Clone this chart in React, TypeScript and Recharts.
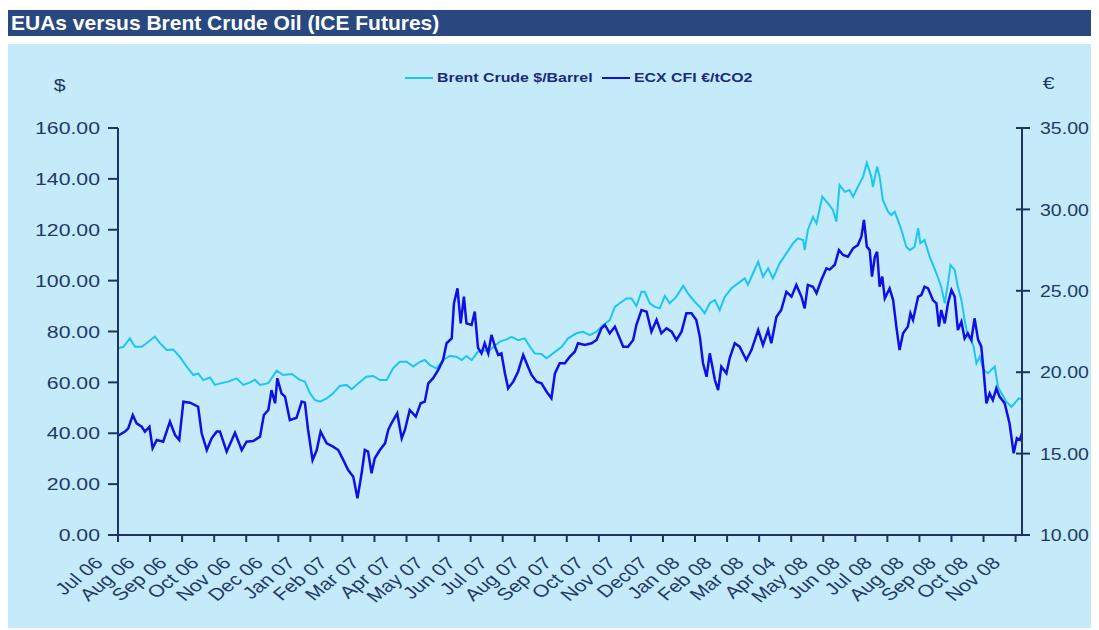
import React from 'react';
import { LineChart, Line, XAxis, YAxis } from 'recharts';

const months = [
  'Jul 06', 'Aug 06', 'Sep 06', 'Oct 06', 'Nov 06', 'Dec 06',
  'Jan 07', 'Feb 07', 'Mar 07', 'Apr 07', 'May 07', 'Jun 07',
  'Jul 07', 'Aug 07', 'Sep 07', 'Oct 07', 'Nov 07', 'Dec07',
  'Jan 08', 'Feb 08', 'Mar 08', 'Apr 04', 'May 08', 'Jun 08',
  'Jul 08', 'Aug 08', 'Sep 08', 'Oct 08', 'Nov 08',
];
const monthTicks = months.map((_, i) => i);
const dollarTicks = [0, 20, 40, 60, 80, 100, 120, 140, 160];
const euroTicks = [10, 15, 20, 25, 30, 35];

// time in months since start of Jul 06
const brentT = [
  0, 0.17, 0.37, 0.53, 0.74, 0.89, 1.15, 1.31, 1.52, 1.72,
  1.93, 2.14, 2.35, 2.5, 2.66, 2.87, 3.02, 3.23, 3.44, 3.7,
  3.91, 4.12, 4.27, 4.43, 4.69, 4.95, 5.15, 5.42, 5.67, 5.83,
  5.99, 6.14, 6.3, 6.51, 6.71, 6.92, 7.13, 7.29, 7.49, 7.75,
  7.96, 8.17, 8.38, 8.58, 8.79, 9.0, 9.21, 9.42, 9.57, 9.73,
  9.94, 10.14, 10.35, 10.56, 10.72, 10.87, 11.03, 11.23, 11.6, 11.91,
  12.12, 12.28, 12.48, 12.69, 12.85, 13.0, 13.21, 13.37, 13.57, 13.84,
  14.04, 14.3, 14.51, 14.72, 14.93, 15.13, 15.34, 15.5, 15.65, 15.86,
  16.02, 16.17, 16.33, 16.43, 16.59, 16.74, 16.9, 17.06, 17.21, 17.42,
  17.63, 17.78, 17.99, 18.15, 18.3, 18.46, 18.62, 18.77, 18.93, 19.14,
  19.34, 19.55, 19.65, 19.81, 19.97, 20.12, 20.28, 20.43, 20.64, 20.85,
  21.06, 21.21, 21.37, 21.42, 21.52, 21.68, 21.79, 21.97, 22.15, 22.3,
  22.41, 22.51, 22.67, 22.82, 22.93, 23.08, 23.24, 23.36, 23.5, 23.55,
  23.68, 23.76, 23.86, 24.02, 24.12, 24.23, 24.33, 24.44, 24.59, 24.7,
  24.85, 24.96, 25.03, 25.16, 25.32, 25.53, 25.68, 25.79, 25.89, 25.97,
  26.1, 26.2, 26.31, 26.41, 26.51, 26.62, 26.69, 26.78, 26.88, 27.0,
  27.14, 27.24, 27.35, 27.45, 27.56, 27.71, 27.87, 27.97, 28.1, 28.17,
];
const brentPrice = [
  73.4, 74, 77.3, 74, 74, 75.4, 78, 75.4, 72.7, 72.9,
  70, 66.2, 62.9, 63.5, 60.9, 61.9, 59, 59.7, 60.3, 61.6,
  59, 60, 61, 59, 59.7, 64.6, 62.9, 63.3, 61, 60.3,
  55.7, 53.1, 52.4, 53.7, 55.7, 58.6, 59, 57.3, 59.6, 62.2,
  62.5, 60.9, 60.9, 65.5, 68.1, 68.1, 66.2, 68.1, 68.8, 66.8,
  65.5, 68.8, 70.4, 70.1, 68.8, 70.4, 68.8, 72.1, 72.7, 76,
  76.9, 77.9, 76.6, 77.3, 74, 71.4, 71.2, 69.5, 71.4, 74,
  77.3, 79.3, 79.9, 78.6, 79.9, 82.5, 84.5, 89.7, 91.1, 93,
  93, 90, 95.6, 95.6, 91.1, 89.7, 89.1, 94, 91.1, 93.7,
  97.9, 95, 91.7, 89.7, 87.1, 91.1, 92.4, 88.4, 93.7, 97,
  98.9, 100.9, 98.3, 102.9, 107.4, 101.5, 104.8, 100.9, 106.8, 110.7,
  114.7, 116.6, 116, 112, 119.9, 125.1, 122.5, 133, 130.4, 127.8,
  123.2, 137.6, 134.9, 135.6, 133, 136.9, 140.8, 146.3, 140.8, 136.9,
  144.8, 140.8, 131.7, 127.1, 125.8, 127.1, 123.8, 119.9, 113.3, 112,
  113.3, 120.6, 114.7, 116, 109.4, 102.9, 97.6, 91.1, 98.9, 106.1,
  104.2, 97.6, 92.4, 84.5, 77.9, 76.6, 74, 67.5, 70.1, 64.9,
  63.6, 64.9, 66.2, 58.3, 55.7, 52.4, 50.4, 51.8, 53.7, 53.5,
];

const ecxT = [
  0, 0.22, 0.32, 0.46, 0.58, 0.74, 0.84, 0.98, 1.08, 1.21,
  1.41, 1.62, 1.78, 1.91, 2.04, 2.25, 2.5, 2.61, 2.77, 2.92,
  3.08, 3.18, 3.39, 3.65, 3.86, 4.01, 4.22, 4.43, 4.55, 4.69,
  4.79, 4.9, 4.97, 5.1, 5.21, 5.36, 5.57, 5.73, 5.83, 5.93,
  6.07, 6.2, 6.32, 6.51, 6.71, 6.87, 7.03, 7.18, 7.34, 7.47,
  7.6, 7.7, 7.8, 7.91, 8.01, 8.17, 8.33, 8.43, 8.53, 8.71,
  8.85, 8.95, 9.1, 9.29, 9.44, 9.57, 9.68, 9.83, 9.99, 10.14,
  10.25, 10.41, 10.48, 10.59, 10.69, 10.79, 10.87, 11.03, 11.13, 11.23,
  11.34, 11.44, 11.55, 11.65, 11.76, 11.86, 11.96, 12.07, 12.17, 12.33,
  12.48, 12.64, 12.79, 12.9, 13.06, 13.21, 13.37, 13.52, 13.63, 13.78,
  13.94, 14.09, 14.25, 14.35, 14.56, 14.77, 14.93, 15.08, 15.19, 15.34,
  15.5, 15.65, 15.76, 15.91, 16.07, 16.17, 16.33, 16.49, 16.64, 16.8,
  16.95, 17.11, 17.27, 17.42, 17.58, 17.73, 17.89, 18.04, 18.15, 18.25,
  18.36, 18.46, 18.56, 18.62, 18.72, 18.82, 18.98, 19.08, 19.24, 19.39,
  19.6, 19.76, 19.97, 20.12, 20.28, 20.38, 20.54, 20.69, 20.85, 21.01,
  21.16, 21.32, 21.42, 21.52, 21.68, 21.79, 21.94, 22.1, 22.2, 22.36,
  22.49, 22.62, 22.77, 22.93, 23.08, 23.19, 23.27, 23.36, 23.45, 23.52,
  23.61, 23.68, 23.76, 23.84, 23.92, 24.07, 24.18, 24.28, 24.38, 24.49,
  24.64, 24.72, 24.8, 24.96, 25.06, 25.16, 25.27, 25.42, 25.53, 25.61,
  25.68, 25.79, 25.89, 26.0, 26.1, 26.2, 26.31, 26.41, 26.51, 26.62,
  26.72, 26.83, 26.93, 27.0, 27.09, 27.19, 27.29, 27.4, 27.5, 27.66,
  27.81, 27.94, 28.04, 28.13, 28.2,
];
const ecxPrice = [
  16.1, 16.35, 16.55, 17.37, 16.86, 16.65, 16.35, 16.65, 15.33, 15.84,
  15.73, 16.96, 16.14, 15.84, 18.19, 18.13, 17.88, 16.25, 15.22, 15.94,
  16.35, 16.35, 15.12, 16.28, 15.22, 15.73, 15.77, 16.04, 17.37, 17.68,
  18.9, 18.09, 19.63, 18.7, 18.5, 17.06, 17.2, 18.19, 18.13, 16.45,
  14.6, 15.22, 16.35, 15.63, 15.43, 15.22, 14.6, 13.99, 13.58, 12.25,
  13.79, 15.22, 15.12, 13.79, 14.71, 15.22, 15.63, 16.45, 16.86, 17.47,
  15.94, 16.45, 17.68, 17.27, 18.09, 18.19, 19.32, 19.63, 20.14, 20.75,
  21.78, 22.08, 24.23, 25.15, 23.0, 24.64, 23.0, 22.9, 23.72, 21.5,
  21.16, 21.78, 21.16, 22.29, 21.57, 21.06, 21.16, 19.93, 19.01, 19.42,
  20.03, 21.06, 20.34, 19.83, 19.42, 19.32, 18.8, 18.4, 19.93, 20.55,
  20.55, 20.95, 21.26, 21.78, 21.67, 21.78, 21.98, 22.7, 22.9, 22.39,
  22.8, 22.08, 21.57, 21.57, 21.98, 22.9, 23.82, 23.72, 22.49, 23.21,
  22.39, 22.7, 22.49, 21.98, 22.49, 23.62, 23.62, 23.21, 22.18, 20.55,
  19.72, 21.16, 20.14, 19.52, 18.9, 20.34, 19.93, 20.85, 21.78, 21.57,
  20.75, 21.36, 22.59, 21.67, 22.59, 21.78, 23.41, 23.82, 24.94, 24.64,
  25.36, 24.64, 23.92, 25.36, 25.25, 24.85, 25.66, 26.38, 26.3, 26.6,
  27.5, 27.2, 27.09, 27.61, 27.81, 28.32, 29.35, 27.71, 27.5, 25.87,
  27.09, 27.4, 25.25, 25.87, 24.54, 25.15, 24.43, 22.8, 21.36, 22.39,
  22.8, 23.62, 23.21, 24.64, 24.74, 25.25, 25.15, 24.43, 24.23, 22.8,
  23.82, 23.0, 24.23, 25.05, 24.64, 22.59, 23.1, 22.08, 22.39, 21.98,
  23.31, 22.0, 21.57, 20.14, 18.09, 18.7, 18.29, 19.01, 18.5, 18.09,
  16.86, 15.02, 15.94, 15.84, 16.25,
];

const brentData = brentT.map((t, i) => ({ t, brent: brentPrice[i] }));
const ecxData = ecxT.map((t, i) => ({ t, ecx: ecxPrice[i] }));

const AXIS = '#1d3461';
const TEXT = '#1f3a64';
const FONT = '"Liberation Sans", Arial, sans-serif';
const BRENT = '#1cc6f2';
const ECX = '#1010e4';

const MonthTick = ({ x, y, payload }: any) => (
  <g transform={`translate(${x},${y})`}>
    <text x={0} y={0} transform="translate(-14,20) scale(1.25,1) rotate(-45)" textAnchor="end" fill={TEXT} fontSize={17} fontFamily={FONT}>
      {months[payload.value]}
    </text>
  </g>
);

const DollarTick = ({ x, y, payload }: any) => (
  <text x={0} y={0} dy="0.36em" transform={`translate(${x},${y}) scale(1.25,1)`} textAnchor="end" fill={TEXT} fontSize={17} fontFamily={FONT}>
    {Number(payload.value).toFixed(2)}
  </text>
);

// right axis ticks cross the axis line
const EuroTick = ({ x, y, payload }: any) => (
  <g>
    <line x1={x - 24} x2={x - 10} y1={y} y2={y} stroke={AXIS} strokeWidth={2} />
    <text x={0} y={0} dy="0.36em" transform={`translate(${x},${y}) scale(1.15,1)`} textAnchor="start" fill={TEXT} fontSize={17} fontFamily={FONT}>
      {Number(payload.value).toFixed(2)}
    </text>
  </g>
);

const legendText: React.CSSProperties = {
  position: 'absolute', top: 26, fontSize: 13.6, fontWeight: 'bold', color: '#1b2a7a', fontFamily: FONT,
  transform: 'scaleX(1.17)', transformOrigin: 'left center', whiteSpace: 'nowrap', lineHeight: '16px',
};

export default function App() {
  return (
    <div style={{ width: 1085, fontFamily: FONT }}>
      <div style={{ marginTop: 2, width: 1085, height: 26, background: '#29487f', color: '#fff', fontWeight: 'bold', fontSize: 21, lineHeight: '26px', paddingLeft: 3, boxSizing: 'border-box' }}>
        EUAs versus Brent Crude Oil (ICE Futures)
      </div>
      <div style={{ position: 'relative', marginTop: 8, width: 1085, height: 584, background: '#c5eafa' }}>
        <div style={{ position: 'absolute', left: 47, top: 32, fontSize: 17, color: TEXT, transform: 'scaleX(1.25)' }}>$</div>
        <div style={{ position: 'absolute', left: 1036, top: 30, fontSize: 17, color: TEXT, transform: 'scaleX(1.25)' }}>€</div>
        <div style={{ position: 'absolute', left: 397, top: 33, width: 28, height: 2, background: BRENT }} />
        <div style={{ ...legendText, left: 429 }}>Brent Crude $/Barrel</div>
        <div style={{ position: 'absolute', left: 594, top: 33, width: 28, height: 2, background: ECX }} />
        <div style={{ ...legendText, left: 626 }}>ECX CFI €/tCO2</div>
        <LineChart width={1085} height={578} margin={{ top: 84, right: 0, bottom: 0, left: 0 }} style={{ overflow: 'visible' }}>
          <XAxis
            dataKey="t"
            type="number"
            domain={[0, 28.2]}
            ticks={monthTicks}
            interval={0}
            allowDataOverflow
            height={87}
            tick={<MonthTick />}
            tickSize={7}
            tickMargin={2}
            axisLine={{ stroke: AXIS, strokeWidth: 2 }}
            tickLine={{ stroke: AXIS, strokeWidth: 2 }}
          />
          <YAxis
            yAxisId="left"
            orientation="left"
            width={110}
            domain={[0, 160]}
            ticks={dollarTicks}
            interval={0}
            tick={<DollarTick />}
            tickSize={10}
            tickMargin={8}
            axisLine={{ stroke: AXIS, strokeWidth: 2 }}
            tickLine={{ stroke: AXIS, strokeWidth: 2 }}
          />
          <YAxis
            yAxisId="right"
            orientation="right"
            width={71}
            domain={[10, 35]}
            ticks={euroTicks}
            interval={0}
            tick={<EuroTick />}
            tickSize={8}
            tickMargin={10}
            tickLine={false}
            axisLine={{ stroke: AXIS, strokeWidth: 2 }}
          />
          <Line data={brentData} dataKey="brent" yAxisId="left" type="linear" stroke={BRENT} strokeWidth={2} dot={false} isAnimationActive={false} />
          <Line data={ecxData} dataKey="ecx" yAxisId="right" type="linear" stroke={ECX} strokeWidth={2.5} dot={false} isAnimationActive={false} />
        </LineChart>
      </div>
    </div>
  );
}
